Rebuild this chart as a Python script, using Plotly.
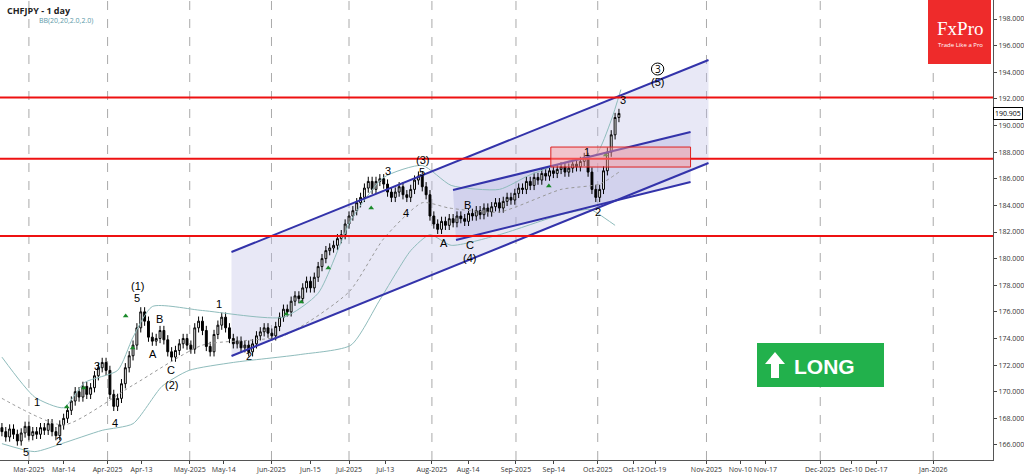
import plotly.graph_objects as go

closes = [167.0,166.6,167.2,166.8,166.3,166.9,167.4,166.7,
          167.0,166.8,167.3,167.1,167.6,167.0,166.7,167.5,
          168.0,168.6,169.3,170.0,169.6,170.4,169.8,170.3,
          171.2,171.8,172.2,171.6,169.8,168.9,169.5,170.6,
          171.8,172.7,173.5,174.8,176.0,175.3,174.1,173.8,
          174.0,174.6,173.9,173.0,172.6,173.1,173.6,174.0,
          173.5,173.2,174.8,175.3,174.6,173.4,173.0,174.3,
          175.0,175.6,174.8,174.0,173.6,173.8,173.3,173.5,
          173.0,173.6,174.2,174.5,174.8,174.4,174.2,174.9,
          175.6,176.2,176.0,176.8,177.2,177.0,177.8,178.3,
          177.8,178.6,179.4,180.0,180.6,180.8,181.0,181.5,
          181.8,182.6,183.2,183.6,184.2,184.6,185.3,185.8,
          185.2,185.8,186.0,185.6,185.0,184.6,185.0,185.4,
          184.8,184.6,185.2,185.9,186.2,185.4,184.8,
          183.2,182.6,182.2,182.8,182.5,183.0,182.7,183.2,
          183.0,182.8,183.4,183.2,183.6,183.3,183.8,183.5,
          183.9,184.2,183.8,184.3,184.6,184.4,184.9,185.3,
          185.2,185.8,185.5,186.1,185.9,186.4,186.2,186.6,
          186.4,186.7,186.9,186.5,186.8,187.1,186.9,187.3,
          187.6,186.5,185.2,184.6,
          185.2,186.6,188.0,189.3,190.6,190.905]
opens = [167.3] + closes[:-1]
wick = 0.35
highs = [max(o, c) + wick for o, c in zip(opens, closes)]
lows = [min(o, c) - wick for o, c in zip(opens, closes)]
idx = list(range(len(closes)))

upper_x = [0,8.5,16,21.5,30,34,39,52,73,82,90.5,99,109,116.5,129,137,147.5,154,158,160.5]
upper_y = [172.6,169.6,168.8,170.7,171.6,174.1,176.4,176.1,175.6,177.4,182.9,186.1,187.0,185.5,185.2,186.3,187.4,187.8,190.4,192.7]
lower_x = [0,8.5,15.5,26,34,41.5,48.5,60,77.5,90.5,98,106,111,116.5,129,145,152.5,155,159]
lower_y = [166.1,165.5,166.1,167.1,167.6,170.4,171.6,172.2,172.8,173.5,176.9,180.6,181.8,181.0,181.8,183.3,183.7,183.3,182.5]
mid_x = [0,16,34,52,73,90,99,109,116,129,145,155,160]
mid_y = [169.5,167.5,170.5,173.5,174.2,177.5,181.5,184.2,183.8,183.5,185.2,185.6,186.5]

tick_pos = [7,16,27.4,36.2,48.7,57.5,69.9,80,90,99.4,111.5,120.9,133.3,143.1,154.5,163.8,169.5,182.7,191.5,198,212.2,220.2,226.7,241.5]
tick_text = ["Mar-2025","Mar-14","Apr-2025","Apr-13","May-2025","May-14","Jun-2025","Jun-15","Jul-2025","Jul-13",
             "Aug-2025","Aug-14","Sep-2025","Sep-14","Oct-2025","Oct-12","Oct-19","Nov-2025","Nov-10","Nov-17",
             "Dec-2025","Dec-10","Dec-17","Jan-2026"]
month_lines = [7,27.4,48.7,69.9,90,111.5,133.3,154.5,182.7,212.2,241.5]
levels = [192.1, 187.5, 181.7]

PX = 3.864
def px(x, y):
    return x / PX, 198 - (y - 19) / 13.31

fig = go.Figure()
fig.add_trace(go.Scatter(x=upper_x, y=upper_y, mode="lines", line=dict(color="#8fbcbc", width=1, shape="spline", smoothing=0.6), hoverinfo="skip"))
fig.add_trace(go.Scatter(x=lower_x, y=lower_y, mode="lines", line=dict(color="#8fbcbc", width=1, shape="spline", smoothing=0.6), hoverinfo="skip"))
fig.add_trace(go.Scatter(x=mid_x, y=mid_y, mode="lines", line=dict(color="#999", width=1, dash="dot", shape="spline", smoothing=0.6), hoverinfo="skip"))
fig.add_trace(go.Candlestick(x=idx, open=opens, high=highs, low=lows, close=closes,
    increasing=dict(fillcolor="white", line=dict(color="black", width=1)),
    decreasing=dict(fillcolor="black", line=dict(color="black", width=1)), whiskerwidth=0))

arrows = [(65,407),(82,388),(131,348),(124,316),(285,314),(300,302),(327,268),(370,208),(548,186),(605,155)]
fig.add_trace(go.Scatter(x=[px(a,b)[0] for a,b in arrows], y=[px(a,b)[1] for a,b in arrows], mode="markers",
    marker=dict(symbol="triangle-up", color="#1a8a2a", size=5), hoverinfo="skip"))

shapes = []
for m in month_lines:
    shapes.append(dict(type="line", x0=m, x1=m, yref="paper", y0=0, y1=1, line=dict(color="#aaa", width=1, dash="dash"), layer="below"))
a0, a1 = px(230,252), px(708,60)
b0, b1 = px(230,356), px(708,163)
shapes.append(dict(type="path", path=f"M{a0[0]},{a0[1]} L{a1[0]},{a1[1]} L{b1[0]},{b1[1]} L{b0[0]},{b0[1]} Z",
                   fillcolor="rgba(190,190,230,0.35)", line=dict(width=0), layer="below"))
c0, c1 = px(452,190), px(690,132)
d0, d1 = px(455,240), px(690,182)
shapes.append(dict(type="path", path=f"M{c0[0]},{c0[1]} L{c1[0]},{c1[1]} L{d1[0]},{d1[1]} L{d0[0]},{d0[1]} Z",
                   fillcolor="rgba(170,170,220,0.35)", line=dict(width=0), layer="below"))
for p, q in [(a0,a1),(b0,b1),(c0,c1),(d0,d1)]:
    shapes.append(dict(type="line", x0=p[0], y0=p[1], x1=q[0], y1=q[1], line=dict(color="#3333aa", width=2)))
for l in levels:
    shapes.append(dict(type="line", xref="paper", x0=0, x1=1, y0=l, y1=l, line=dict(color="#ee1111", width=2)))
r0, r1 = px(550,147), px(690,167)
shapes.append(dict(type="rect", x0=r0[0], x1=r1[0], y0=r1[1], y1=r0[1], fillcolor="rgba(255,150,150,0.45)",
                   line=dict(color="#dd2222", width=1)))
W, H = 993.0, 460.0
def pp(x, y):
    return x / W, 1 - y / H
shapes.append(dict(type="rect", xref="paper", yref="paper", x0=757/W, x1=884/W, y0=1-387/H, y1=1-343/H,
                   fillcolor="#22b14c", line=dict(width=0)))
arrow_pts = [(775,352),(765,364),(771,364),(771,378),(779,378),(779,364),(785,364)]
path = "M" + " L".join(f"{pp(a,b)[0]},{pp(a,b)[1]}" for a, b in arrow_pts) + " Z"
shapes.append(dict(type="path", xref="paper", yref="paper", path=path, fillcolor="white", line=dict(width=0)))
shapes.append(dict(type="rect", xref="paper", yref="paper", x0=928/W, x1=991/W, y0=1-64/H, y1=1,
                   fillcolor="#ee2b2b", line=dict(width=0)))

anns = []
labels = [("5",24,452),("1",35,402),("2",57,441),("3",95,366),("4",113,423),("(1)",136,286),("5",135,298),
          ("B",158,319),("A",151,354),("C",169,370),("(2)",170,385),("1",218,304),("2",248,356),("3",387,171),
          ("5",421,172),("(3)",421,160),("4",405,213),("A",443,243),("B",466,205),("C",469,245),("(4)",469,258),
          ("1",586,152),("2",597,212),("3",622,100),("(5)",657,82)]
for t, a, b in labels:
    x, y = px(a, b)
    anns.append(dict(x=x, y=y, text=t, showarrow=False, font=dict(size=11, color="black", family="Liberation Sans")))
cx, cy = px(657, 69)
anns.append(dict(x=cx, y=cy, text="3", showarrow=False, font=dict(size=10, color="black")))
anns += [
    dict(xref="paper", yref="paper", x=0.005, y=0.995, xanchor="left", yanchor="top", text="<b>CHFJPY - 1 day</b>",
         showarrow=False, font=dict(size=9, color="#222")),
    dict(xref="paper", yref="paper", x=0.037, y=0.97, xanchor="left", yanchor="top", text="BB(20,20,2.0,2.0)",
         showarrow=False, font=dict(size=7, color="#5a9aa8")),
    dict(xref="paper", yref="paper", x=792/W, y=1-366/H, xanchor="left", yanchor="middle", text="<b>LONG</b>",
         showarrow=False, font=dict(size=21, color="white", family="Liberation Sans")),
    dict(xref="paper", yref="paper", x=960/W, y=1-29/H, xanchor="center", yanchor="middle", text="FxPro",
         showarrow=False, font=dict(size=19, color="white", family="Liberation Serif")),
    dict(xref="paper", yref="paper", x=960/W, y=1-45/H, xanchor="center", yanchor="middle", text="Trade Like a Pro",
         showarrow=False, font=dict(size=6, color="white")),
    dict(xref="paper", x=1.0, y=190.905, xanchor="left", text="190.905", showarrow=False,
         font=dict(size=7, color="black"), bgcolor="white", bordercolor="black", borderwidth=1, borderpad=1),
]
shapes.append(dict(type="circle", x0=cx-1.6, x1=cx+1.6, y0=cy-0.45, y1=cy+0.45, line=dict(color="black", width=1)))

fig.update_layout(width=1024, height=474, margin=dict(l=0, r=31, t=0, b=14, autoexpand=False),
    plot_bgcolor="white", paper_bgcolor="white", showlegend=False, shapes=shapes, annotations=anns,
    xaxis=dict(range=[-0.5, 257], tickvals=tick_pos, ticktext=tick_text, tickfont=dict(size=7, color="#333"),
               tickangle=0, automargin=False,
               showgrid=False, rangeslider=dict(visible=False), ticks="outside", ticklen=3,
               showline=True, linecolor="#555", mirror=True, zeroline=False),
    yaxis=dict(range=[164.87, 199.43], side="right", dtick=2, tickformat=".3f", tickfont=dict(size=7, color="#333"),
               automargin=False,
               showgrid=False, ticks="outside", ticklen=3, showline=True, linecolor="#555", mirror=True, zeroline=False))
fig.write_html("out.html", config={"displayModeBar": False},
               post_script="document.body.style.margin='0';document.body.style.overflow='hidden';")
